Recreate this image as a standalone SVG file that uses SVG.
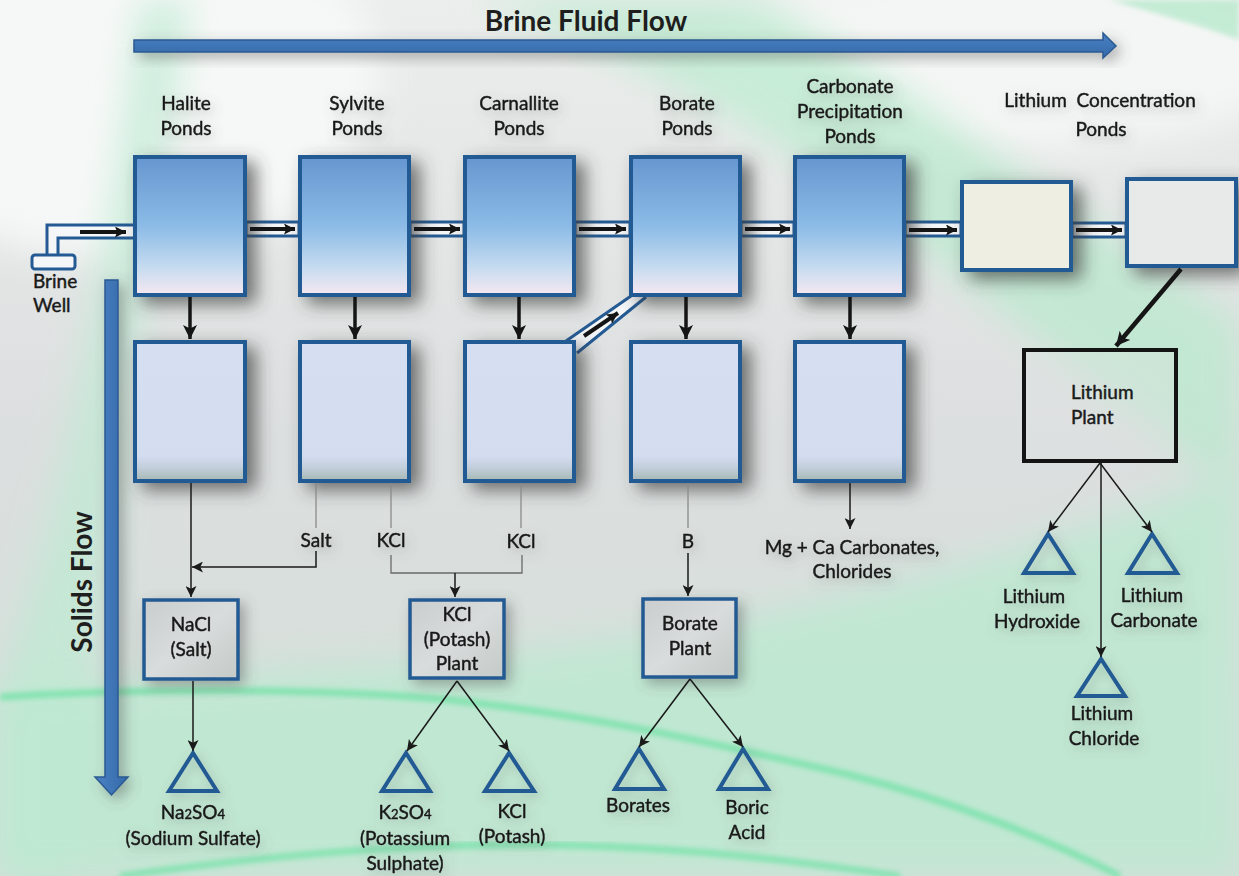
<svg xmlns="http://www.w3.org/2000/svg" width="1239" height="876" viewBox="0 0 1239 876">
  <defs>
    <style>
      .lbl { font-family: Lato, "Open Sans", "Liberation Sans", sans-serif; font-size: 19px; fill: #1a1a1a; stroke: #1a1a1a; stroke-width: 0.45px; text-anchor: middle; }
      .title { font-family: Lato, "Open Sans", "Liberation Sans", sans-serif; font-size: 28px; font-weight: bold; fill: #1e1e1e; text-anchor: middle; }
      .pond { stroke: #245a93; stroke-width: 4; fill: url(#pondTop); }
      .pond2 { stroke: #245a93; stroke-width: 4; fill: url(#pondLow); }
      .plant { stroke: #245a93; stroke-width: 3.5; fill: url(#plantFill); }
      .tri { stroke: #245a93; stroke-width: 4; fill: none; stroke-linejoin: miter; }
      .pipe { stroke: #245a93; stroke-width: 3; fill: #f4f6f8; }
      .pipeEdge { stroke: #245a93; stroke-width: 3; fill: none; }
      .flow { stroke: #151515; stroke-width: 4; fill: none; marker-end: url(#pipeHead); }
      .drop { stroke: #151515; stroke-width: 3.5; fill: none; marker-end: url(#boldHead); }
      .thin { stroke: #1a1a1a; stroke-width: 1.5; fill: none; marker-end: url(#thinHead); }
      .lead { stroke: #8a8a8a; stroke-width: 1.3; fill: none; }
      .join { stroke: #6a6a6a; stroke-width: 1.3; fill: none; }
    </style>
    <linearGradient id="bgBase" x1="0" y1="0" x2="0" y2="1">
      <stop offset="0" stop-color="#eceeed"/>
      <stop offset="0.5" stop-color="#dcdfdf"/>
      <stop offset="1" stop-color="#d3dfd9"/>
    </linearGradient>
    <linearGradient id="pondTop" x1="0" y1="0" x2="0" y2="1">
      <stop offset="0" stop-color="#6796d0"/>
      <stop offset="0.5" stop-color="#8bbbe6"/>
      <stop offset="0.8" stop-color="#c6dbf0"/>
      <stop offset="1" stop-color="#f6e8f0"/>
    </linearGradient>
    <linearGradient id="pondLow" x1="0" y1="0" x2="0" y2="1">
      <stop offset="0" stop-color="#d6def1"/>
      <stop offset="0.82" stop-color="#d4dcf0"/>
      <stop offset="0.9" stop-color="#c3cfdd"/>
      <stop offset="1" stop-color="#a6b8b2"/>
    </linearGradient>
    <linearGradient id="plantFill" x1="0" y1="0" x2="1" y2="1">
      <stop offset="0" stop-color="#c9cdcd"/>
      <stop offset="0.5" stop-color="#d8dcdc"/>
      <stop offset="1" stop-color="#c4cac8"/>
    </linearGradient>
    <linearGradient id="arrowFill" x1="0" y1="0" x2="0" y2="1">
      <stop offset="0" stop-color="#4a82c4"/>
      <stop offset="1" stop-color="#3569a8"/>
    </linearGradient>
    <linearGradient id="arrowFillV" x1="0" y1="0" x2="1" y2="0">
      <stop offset="0" stop-color="#4a82c4"/>
      <stop offset="1" stop-color="#3569a8"/>
    </linearGradient>
    <filter id="shadow" x="-30%" y="-30%" width="170%" height="170%">
      <feDropShadow dx="9" dy="7" stdDeviation="9" flood-color="#3c3c3c" flood-opacity="0.7"/>
    </filter>
    <filter id="softShadow" x="-30%" y="-30%" width="170%" height="170%">
      <feDropShadow dx="5" dy="5" stdDeviation="7" flood-color="#505050" flood-opacity="0.45"/>
    </filter>
    <filter id="textHalo" x="-30%" y="-50%" width="160%" height="220%">
      <feDropShadow dx="3" dy="4" stdDeviation="6" flood-color="#606060" flood-opacity="0.35"/>
    </filter>
    <filter id="blurBig" x="-20%" y="-20%" width="140%" height="140%">
      <feGaussianBlur stdDeviation="18"/>
    </filter>
    <filter id="blurLine" x="-10%" y="-10%" width="120%" height="120%">
      <feGaussianBlur stdDeviation="2.5"/>
    </filter>
    <marker id="thinHead" viewBox="0 0 10 10" refX="10" refY="5" markerWidth="11" markerHeight="11" markerUnits="userSpaceOnUse" orient="auto">
      <path d="M0,0 L10,5 L0,10 L2.5,5 Z" fill="#1a1a1a"/>
    </marker>
    <marker id="boldHead" viewBox="0 0 12 12" refX="12" refY="6" markerWidth="14" markerHeight="14" markerUnits="userSpaceOnUse" orient="auto">
      <path d="M0,0 L12,6 L0,12 L3,6 Z" fill="#151515"/>
    </marker>
    <marker id="pipeHead" viewBox="0 0 10 10" refX="10" refY="5" markerWidth="11" markerHeight="11" markerUnits="userSpaceOnUse" orient="auto">
      <path d="M0,0 L10,5 L0,10 L2,5 Z" fill="#151515"/>
    </marker>
  </defs>

  <!-- background wash with green swooshes -->
  <g id="background">
    <rect width="1239" height="876" fill="url(#bgBase)"/>
    <ellipse cx="120" cy="80" rx="260" ry="180" fill="#f6f8f7" filter="url(#blurBig)"/>
    <ellipse cx="1000" cy="60" rx="300" ry="90" fill="#f4f6f5" filter="url(#blurBig)"/>
    <path d="M140,0 L190,0 C160,200 120,420 70,876 L0,876 L0,690 C70,480 110,240 140,0 Z" fill="#bfead3" opacity="0.75" filter="url(#blurBig)"/>
    <path d="M470,0 L760,0 C900,80 1050,200 1239,320 L1239,500 C1080,370 950,270 830,180 C700,90 590,40 470,0 Z" fill="#b9e9cd" opacity="0.75" filter="url(#blurBig)"/>
    <path d="M1110,0 L1239,0 L1239,40 C1200,25 1150,12 1110,0 Z" fill="#b9e9cd" opacity="0.8" filter="url(#blurLine)"/>
    <path d="M0,690 C300,660 700,690 1239,470 L1239,876 L0,876 Z" fill="#bde9d1" opacity="0.85" filter="url(#blurBig)"/>
    <path d="M0,697 C150,688 320,688 450,700 C600,716 720,745 850,775 C950,800 1050,840 1120,876" fill="none" stroke="#74e2a8" stroke-width="7" opacity="0.8" filter="url(#blurLine)"/>
    <path d="M120,876 C250,858 400,842 560,845 C700,848 800,862 900,876" fill="none" stroke="#74e2a8" stroke-width="7" opacity="0.75" filter="url(#blurLine)"/>
  </g>

  <!-- headline flow arrows -->
  <g id="brine-fluid-flow">
    <path d="M134,40 H1103 V33 L1116,46 L1103,58 V52 H134 Z" fill="url(#arrowFill)" stroke="#2a5a93" stroke-width="1.5" filter="url(#softShadow)"/>
    <text class="title" x="586" y="31">Brine Fluid Flow</text>
  </g>
  <g id="solids-flow">
    <path d="M105,280 H118 V777 H128 L111.5,795 L95,777 H105 Z" fill="url(#arrowFillV)" stroke="#2a5a93" stroke-width="1.5" filter="url(#softShadow)"/>
    <text class="title" transform="translate(92,582) rotate(-90)">Solids Flow</text>
  </g>

  <!-- stage headings -->
  <g id="headings" filter="url(#textHalo)">
    <text class="lbl" x="186" y="110">Halite</text>
    <text class="lbl" x="186" y="135">Ponds</text>
    <text class="lbl" x="357" y="110">Sylvite</text>
    <text class="lbl" x="357" y="135">Ponds</text>
    <text class="lbl" x="519" y="110">Carnallite</text>
    <text class="lbl" x="519" y="135">Ponds</text>
    <text class="lbl" x="687" y="110">Borate</text>
    <text class="lbl" x="687" y="135">Ponds</text>
    <text class="lbl" x="850" y="93">Carbonate</text>
    <text class="lbl" x="850" y="118">Precipitation</text>
    <text class="lbl" x="850" y="143">Ponds</text>
    <text class="lbl" x="1100" y="107" xml:space="preserve">Lithium  Concentration</text>
    <text class="lbl" x="1101" y="136">Ponds</text>
  </g>

  <!-- brine well -->
  <g id="brine-well">
    <path d="M47,254 V225 H134 V238 H58 V254 Z" fill="#f4f6f8"/>
    <path class="pipeEdge" d="M47,254 V225 H134"/>
    <path class="pipeEdge" d="M58,254 V238 H134"/>
    <rect x="32" y="255" width="43" height="14" rx="3" fill="#f4f6f8" stroke="#245a93" stroke-width="3"/>
    <text class="lbl" x="33" y="288" style="text-anchor:start">Brine</text>
    <text class="lbl" x="33" y="312" style="text-anchor:start">Well</text>
  </g>

  <!-- channels between ponds -->
  <g id="channels">
    <rect class="pipe" x="246" y="222" width="53" height="14"/>
    <rect class="pipe" x="410" y="222" width="54" height="14"/>
    <rect class="pipe" x="575" y="222" width="55" height="14"/>
    <rect class="pipe" x="741" y="222" width="53" height="14"/>
    <rect class="pipe" x="905" y="222" width="56" height="14"/>
    <rect class="pipe" x="1072" y="223" width="54" height="14"/>
    <path d="M566,341 L631,296 L646,297 L577,352 Z" fill="#f4f6f8"/>
    <path class="pipeEdge" d="M566,341 L631,296"/>
    <path class="pipeEdge" d="M577,353 L646,297"/>
  </g>

  <!-- evaporation ponds, upper row -->
  <g id="halite-pond" filter="url(#shadow)"><rect class="pond" x="135" y="157" width="110" height="138"/></g>
  <g id="sylvite-pond" filter="url(#shadow)"><rect class="pond" x="300" y="157" width="109" height="138"/></g>
  <g id="carnallite-pond" filter="url(#shadow)"><rect class="pond" x="465" y="157" width="109" height="138"/></g>
  <g id="borate-pond" filter="url(#shadow)"><rect class="pond" x="631" y="157" width="109" height="138"/></g>
  <g id="carbonate-pond" filter="url(#shadow)"><rect class="pond" x="795" y="157" width="109" height="138"/></g>
  <g id="lithium-pond-1" filter="url(#shadow)"><rect x="962" y="182" width="109" height="88" fill="#eeeee2" stroke="#245a93" stroke-width="4"/></g>
  <g id="lithium-pond-2" filter="url(#shadow)"><rect x="1127" y="179" width="109" height="87" fill="#e8eaea" stroke="#245a93" stroke-width="4"/></g>

  <!-- harvest ponds, lower row -->
  <g id="halite-harvest" filter="url(#shadow)"><rect class="pond2" x="135" y="342" width="110" height="139"/></g>
  <g id="sylvite-harvest" filter="url(#shadow)"><rect class="pond2" x="300" y="342" width="109" height="139"/></g>
  <g id="carnallite-harvest" filter="url(#shadow)"><rect class="pond2" x="465" y="342" width="109" height="139"/></g>
  <g id="borate-harvest" filter="url(#shadow)"><rect class="pond2" x="631" y="342" width="109" height="139"/></g>
  <g id="carbonate-harvest" filter="url(#shadow)"><rect class="pond2" x="795" y="342" width="109" height="139"/></g>

  <!-- processing plants -->
  <g id="nacl-plant" filter="url(#softShadow)">
    <rect class="plant" x="144" y="600" width="94" height="79"/>
    <text class="lbl" x="191" y="631">NaCl</text>
    <text class="lbl" x="191" y="656">(Salt)</text>
  </g>
  <g id="kcl-plant" filter="url(#softShadow)">
    <rect class="plant" x="410" y="600" width="94" height="78"/>
    <text class="lbl" x="457" y="621">KCl</text>
    <text class="lbl" x="457" y="646">(Potash)</text>
    <text class="lbl" x="457" y="670">Plant</text>
  </g>
  <g id="borate-plant" filter="url(#softShadow)">
    <rect class="plant" x="643" y="599" width="93" height="78"/>
    <text class="lbl" x="690" y="630">Borate</text>
    <text class="lbl" x="690" y="655">Plant</text>
  </g>
  <g id="lithium-plant">
    <rect x="1024" y="350" width="152" height="111" fill="#dfe3e1" fill-opacity="0.35" stroke="#141414" stroke-width="4"/>
    <text class="lbl" x="1071" y="399" style="text-anchor:start">Lithium</text>
    <text class="lbl" x="1071" y="424" style="text-anchor:start">Plant</text>
  </g>

  <!-- intermediate stream labels -->
  <g id="stream-labels" filter="url(#textHalo)">
    <text class="lbl" x="316" y="547">Salt</text>
    <text class="lbl" x="391" y="547">KCl</text>
    <text class="lbl" x="521" y="548">KCl</text>
    <text class="lbl" x="688" y="548">B</text>
    <text class="lbl" x="852" y="554">Mg + Ca Carbonates,</text>
    <text class="lbl" x="852" y="578">Chlorides</text>
  </g>

  <!-- final products -->
  <g id="sodium-sulfate" filter="url(#textHalo)">
    <path class="tri" d="M193,753 L169,791 L217,791 Z"/>
    <text class="lbl" x="193" y="819">Na<tspan font-size="13">2</tspan>SO<tspan font-size="13">4</tspan></text>
    <text class="lbl" x="193" y="845">(Sodium Sulfate)</text>
  </g>
  <g id="potassium-sulphate" filter="url(#textHalo)">
    <path class="tri" d="M406,753 L382,791 L430,791 Z"/>
    <text class="lbl" x="405" y="819">K<tspan font-size="13">2</tspan>SO<tspan font-size="13">4</tspan></text>
    <text class="lbl" x="405" y="845">(Potassium</text>
    <text class="lbl" x="405" y="870">Sulphate)</text>
  </g>
  <g id="potash" filter="url(#textHalo)">
    <path class="tri" d="M509,753 L485,791 L534,791 Z"/>
    <text class="lbl" x="512" y="818">KCl</text>
    <text class="lbl" x="512" y="843">(Potash)</text>
  </g>
  <g id="borates" filter="url(#textHalo)">
    <path class="tri" d="M639,749 L615,789 L664,789 Z"/>
    <text class="lbl" x="638" y="812">Borates</text>
  </g>
  <g id="boric-acid" filter="url(#textHalo)">
    <path class="tri" d="M743,749 L719,789 L768,789 Z"/>
    <text class="lbl" x="747" y="814">Boric</text>
    <text class="lbl" x="747" y="839">Acid</text>
  </g>
  <g id="lithium-hydroxide" filter="url(#textHalo)">
    <path class="tri" d="M1048,534 L1024,573 L1073,573 Z"/>
    <text class="lbl" x="1034" y="603">Lithium</text>
    <text class="lbl" x="1037" y="628">Hydroxide</text>
  </g>
  <g id="lithium-carbonate" filter="url(#textHalo)">
    <path class="tri" d="M1152,534 L1128,573 L1177,573 Z"/>
    <text class="lbl" x="1152" y="602">Lithium</text>
    <text class="lbl" x="1154" y="627">Carbonate</text>
  </g>
  <g id="lithium-chloride" filter="url(#textHalo)">
    <path class="tri" d="M1101,659 L1077,696 L1125,696 Z"/>
    <text class="lbl" x="1102" y="720">Lithium</text>
    <text class="lbl" x="1104" y="745">Chloride</text>
  </g>

  <!-- connectors -->
  <g id="connectors">
    <!-- brine flow through channels -->
    <path class="flow" d="M80,232 H126"/>
    <path class="flow" d="M250,229 H295"/>
    <path class="flow" d="M414,229 H460"/>
    <path class="flow" d="M579,229 H626"/>
    <path class="flow" d="M745,229 H790"/>
    <path class="flow" d="M909,230 H957"/>
    <path class="flow" d="M1076,230 H1122"/>
    <path class="flow" d="M584,336 L618,313"/>
    <!-- pond to harvest pond -->
    <path class="drop" d="M190,297 V339"/>
    <path class="drop" d="M355,297 V339"/>
    <path class="drop" d="M519,297 V339"/>
    <path class="drop" d="M686,297 V339"/>
    <path class="drop" d="M850,297 V339"/>
    <path class="drop" d="M1181,269 L1116,346" style="stroke-width:4.5"/>
    <!-- solids to plants -->
    <path class="thin" d="M191,483 V597"/>
    <path class="lead" d="M316,483 V528"/>
    <path class="thin" d="M316,551 V567 H192"/>
    <path class="lead" d="M391,483 V528"/>
    <path class="lead" d="M521,483 V528"/>
    <path class="join" d="M391,555 V573 H522 V555"/>
    <path class="thin" d="M455,573 V597"/>
    <path class="lead" d="M688,483 V528"/>
    <path class="thin" d="M688,553 V596"/>
    <path class="thin" d="M850,483 V529"/>
    <!-- plants to products -->
    <path class="thin" d="M193,681 V751"/>
    <path class="thin" d="M457,681 L407,751"/>
    <path class="thin" d="M457,681 L509,751"/>
    <path class="thin" d="M690,679 L639,747"/>
    <path class="thin" d="M690,679 L743,747"/>
    <path class="thin" d="M1100,463 L1048,532"/>
    <path class="thin" d="M1100,463 L1152,532"/>
    <path class="thin" d="M1101,463 V657"/>
  </g>
</svg>
